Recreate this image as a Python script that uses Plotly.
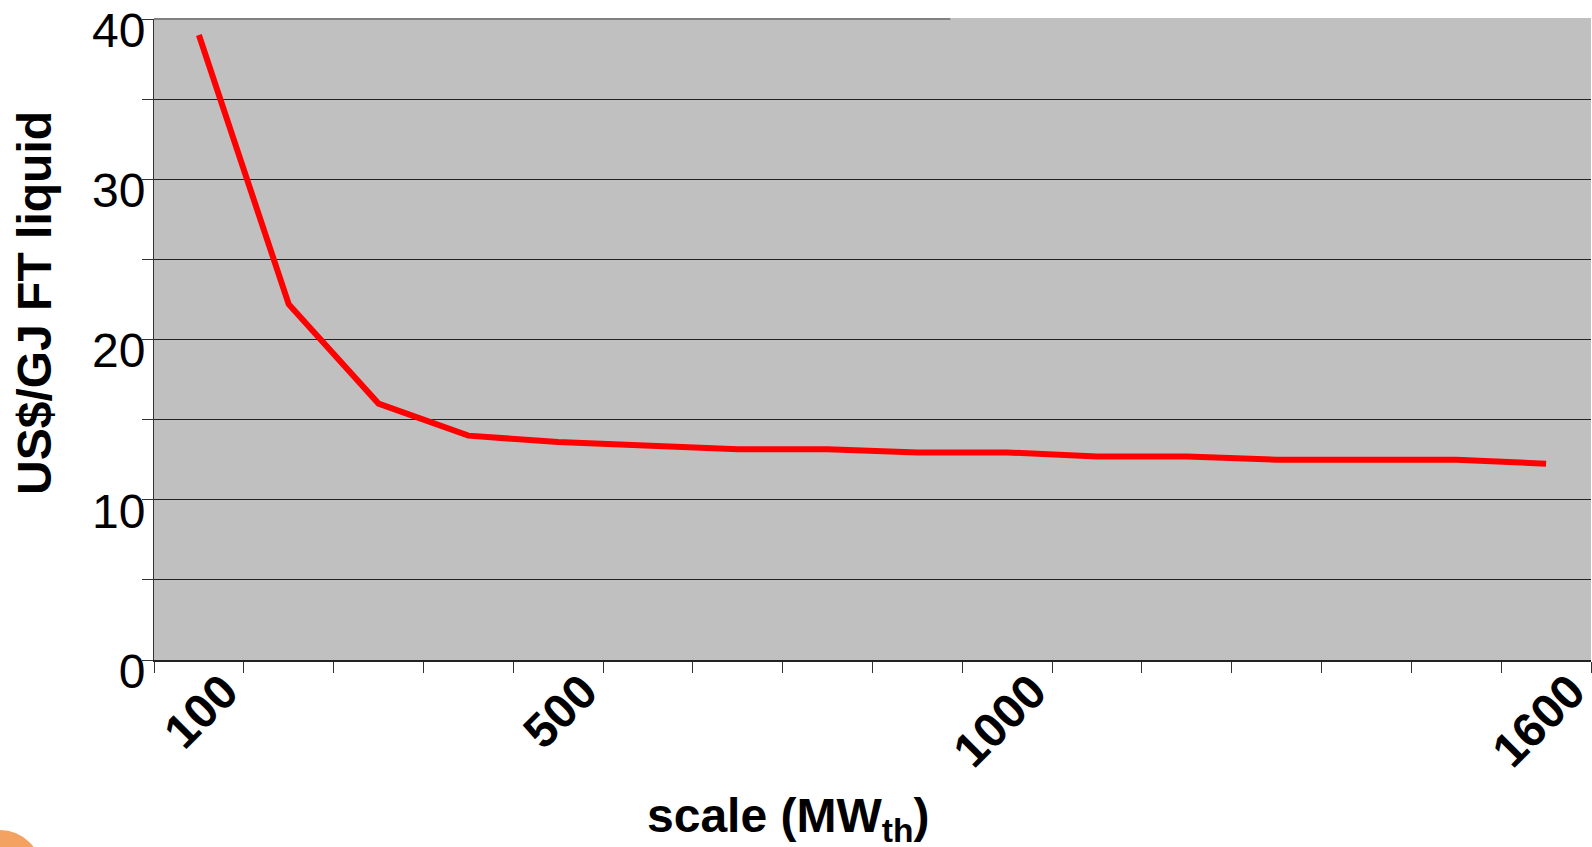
import plotly.graph_objects as go

# Data
scale_mw = [100, 200, 300, 400, 500, 600, 700, 800, 900, 1000, 1100, 1200, 1300, 1400, 1500, 1600]
cost_usd_gj = [39.0, 22.2, 16.0, 14.0, 13.6, 13.4, 13.15, 13.15, 12.95, 12.95, 12.7, 12.7, 12.5, 12.5, 12.5, 12.25]

x_tick_vals = [50 + 100 * i for i in range(17)]
x_label_map = {150: "100", 550: "500", 1050: "1000", 1650: "1600"}
x_tick_text = [x_label_map.get(v, "") for v in x_tick_vals]

y_tick_vals = [0, 5, 10, 15, 20, 25, 30, 35, 40]
y_tick_text = [str(v) if v % 10 == 0 else "" for v in y_tick_vals]

FONT = "Liberation Sans, Arial, sans-serif"

fig = go.Figure()
fig.add_trace(go.Scatter(
    x=scale_mw, y=cost_usd_gj, mode="lines",
    line=dict(color="#ff0000", width=6),
    hoverinfo="skip", showlegend=False,
))

fig.update_layout(
    width=1592, height=847,
    margin=dict(l=154, r=1, t=19, b=187, autoexpand=False),
    paper_bgcolor="white",
    plot_bgcolor="#c0c0c0",
    font=dict(family=FONT, color="black"),
    showlegend=False,
    xaxis=dict(
        range=[50, 1650], tickmode="array", tickvals=x_tick_vals, ticktext=x_tick_text,
        tickangle=-45, ticks="outside", ticklen=11, tickcolor="#333333", tickwidth=1,
        tickfont=dict(family=FONT, size=48, weight="bold", color="black"),
        ticklabelshift=-20, ticklabelstandoff=-29, ticklabeloverflow="allow",
        showgrid=False, zeroline=False, automargin=False,
        showline=True, linecolor="#222222", linewidth=2,
    ),
    yaxis=dict(
        range=[0, 40], tickmode="array", tickvals=y_tick_vals, ticktext=y_tick_text,
        ticks="outside", ticklen=11, tickcolor="#333333", tickwidth=1,
        tickfont=dict(family=FONT, size=48, color="black"),
        ticklabelshift=11, ticklabelstandoff=-13, ticklabeloverflow="allow",
        showgrid=True, gridcolor="#222222", gridwidth=1,
        zeroline=False, automargin=False,
        showline=True, linecolor="#333333", linewidth=1,
    ),
)

# partial grey top border and hide the rest of the top edge
fig.add_shape(type="line", xref="x", yref="paper", x0=50, x1=937, y0=1, y1=1,
              line=dict(color="#808080", width=2), layer="above")
fig.add_shape(type="line", xref="x", yref="paper", x0=937, x1=1650, y0=1, y1=1,
              line=dict(color="#c0c0c0", width=2), layer="above")

# axis titles
fig.add_annotation(
    text="<b>US$/GJ FT liquid</b>", textangle=-90,
    xref="paper", yref="paper", x=-0.0828, y=0.557,
    xanchor="center", yanchor="middle", showarrow=False,
    font=dict(family=FONT, size=48, color="black"),
)
fig.add_annotation(
    text="<b>scale (MW<sub>th</sub>)</b>",
    xref="paper", yref="paper", x=0.441, y=-0.248,
    xanchor="center", yanchor="middle", showarrow=False,
    font=dict(family=FONT, size=48, color="black"),
)

# decorative orange circle in the corner
fig.add_shape(type="circle", xref="paper", yref="paper",
              x0=-0.1364, x1=-0.0779, y0=-0.3966, y1=-0.2654,
              fillcolor="#f4a261", line=dict(width=0), layer="above")

fig.write_html(
    "out.html",
    config={"displayModeBar": False},
    post_script="document.body.style.margin='0';document.body.style.overflow='hidden';",
)
